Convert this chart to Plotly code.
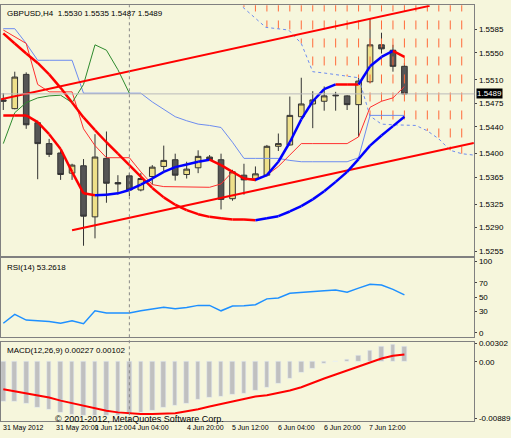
import plotly.graph_objects as go
from plotly.subplots import make_subplots

# GBPUSD H4 bars (index 0..35)
opens = [1.5480,1.5467,1.5518,1.5446,1.5415,1.5401,1.5371,1.5382,1.5306,1.5393,1.5357,1.5367,
         1.5346,1.5366,1.5381,1.5391,1.5369,1.5379,1.5395,1.5391,1.5333,1.5368,1.5363,1.5368,
         1.5411,1.5413,1.5455,1.5474,1.5478,1.5486,1.5486,1.5473,1.5507,1.5562,1.5554,1.5530]
highs = [1.5490,1.5522,1.5521,1.5449,1.5422,1.5405,1.5385,1.5392,1.5429,1.5433,1.5368,1.5371,
         1.5371,1.5383,1.5412,1.5400,1.5388,1.5405,1.5398,1.5400,1.5376,1.5385,1.5381,1.5413,
         1.5430,1.5485,1.5513,1.5493,1.5500,1.5492,1.5487,1.5513,1.5601,1.5580,1.5562,1.5535]
lows = [1.5465,1.5466,1.5437,1.5362,1.5395,1.5361,1.5361,1.5263,1.5274,1.5327,1.5339,1.5337,
        1.5344,1.5354,1.5373,1.5360,1.5363,1.5371,1.5390,1.5317,1.5330,1.5339,1.5359,1.5366,
        1.5404,1.5412,1.5454,1.5438,1.5464,1.5464,1.5465,1.5425,1.5505,1.5549,1.5522,1.5487]
closes = [1.5478,1.5514,1.5443,1.5415,1.5399,1.5369,1.5383,1.5307,1.5395,1.5356,1.5355,1.5346,
          1.5363,1.5380,1.5390,1.5368,1.5377,1.5396,1.5391,1.5332,1.5373,1.5361,1.5370,1.5411,
          1.5415,1.5457,1.5474,1.5480,1.5486,1.5487,1.5473,1.5508,1.5562,1.5556,1.5530,1.5489]

fast_ma = [1.5457,1.5457,1.5457,1.5447,1.5429,1.5407,1.5373,1.5341,1.5338,1.5339,1.5341,1.5346,
           1.5354,1.5363,1.5373,1.5380,1.5384,1.5388,1.5391,1.5383,1.5373,1.5363,1.5361,1.5368,
           1.5388,1.5417,1.5451,1.5478,1.5496,1.5503,1.5503,1.5503,1.5530,1.5544,1.5553,1.5544]
slow_ma = [1.5579,1.5564,1.5549,1.5535,1.5518,1.5498,1.5476,1.5454,1.5435,1.5417,1.5400,1.5383,
           1.5366,1.5349,1.5335,1.5324,1.5316,1.5310,1.5306,1.5304,1.5302,1.5302,1.5301,1.5304,
           1.5307,1.5314,1.5322,1.5332,1.5344,1.5358,1.5373,1.5392,1.5412,1.5427,1.5441,1.5455]
tenkan = [1.5584,1.5574,1.5564,1.5503,1.5492,1.5492,1.5492,1.5437,1.5412,1.5394,1.5394,1.5394,
          1.5373,1.5354,1.5351,1.5351,1.5350,1.5350,1.5350,1.5355,1.5373,1.5363,1.5363,1.5368,
          1.5381,1.5398,1.5415,1.5415,1.5415,1.5415,1.5415,1.5425,1.5469,1.5478,1.5483,1.5500]
kijun = [1.5586,1.5586,1.5564,1.5539,1.5539,1.5539,1.5539,1.5490,1.5490,1.5490,1.5490,1.5490,
         1.5490,1.5477,1.5466,1.5455,1.5449,1.5444,1.5442,1.5439,1.5417,1.5393,1.5393,1.5393,
         1.5393,1.5390,1.5388,1.5388,1.5388,1.5388,1.5388,1.5394,1.5457,1.5457,1.5457,1.5457]
chikou = [1.5415,1.5461,1.5476,1.5483,1.5486,1.5487,1.5476,1.5503,1.5562,1.5554,1.5525,1.5490]

span_x = [20.9,21.9,22.9,23.9,24.9,26,27,28,29,30,31,32,33,34,35,36,37,38,39,40,41]
span_b = [1.5618,1.5603,1.5588,1.5586,1.5584,1.5564,1.5522,1.5520,1.5518,1.5515,1.5513,1.5456,
          1.5444,1.5443,1.5442,1.5442,1.5434,1.5422,1.5405,1.5400,1.5398]

chan_up_x, chan_up_y = [-0.2, 37.2], [1.5481, 1.5620]
chan_dn_x, chan_dn_y = [6.0, 41.05], [1.5286, 1.5416]

rsi = [13.6,26,18,17,16,13.6,17,13,31,28,28,28,31,34,36,34,35.5,38.6,38.6,31,37.7,38,39.5,47.7,
       49,55.5,57,58,59,60,57,62.7,68,67,61,53.3]
macd_hist = [-0.00593,-0.00593,-0.00627,-0.00682,-0.00716,-0.00766,-0.0079,-0.0080,-0.0080,-0.0080,
             -0.0080,-0.0079,-0.00766,-0.00726,-0.00682,-0.00652,-0.00618,-0.00558,-0.00529,-0.00519,
             -0.00494,-0.00469,-0.00435,-0.00385,-0.00321,-0.00247,-0.00158,-0.00099,-0.00025,0.0001,
             0.0004,0.0009,0.0017,0.0023,0.0025,0.00227]
macd_sig = [-0.0041,-0.0044,-0.0047,-0.0050,-0.00533,-0.0058,-0.00618,-0.0066,-0.0070,-0.0073,
            -0.00756,-0.0077,-0.0078,-0.0078,-0.0078,-0.0077,-0.0074,-0.0071,-0.00667,-0.0063,
            -0.0059,-0.0055,-0.0052,-0.0050,-0.0047,-0.0043,-0.0038,-0.0031,-0.0025,-0.0019,
            -0.0013,-0.0007,0.0000,0.0005,0.0009,0.0011]

date_pos = [-0.1, 4.5, 7.9, 11.1, 15.9, 19.9, 23.9, 27.9, 31.8]
date_labels = ["31 May 2012", "31 May 20:00", "1 Jun 12:00", "4 Jun 04:00", "4 Jun 20:00",
               "5 Jun 12:00", "6 Jun 04:00", "6 Jun 20:00", "7 Jun 12:00"]
price_ticks = [1.5585, 1.5550, 1.5510, 1.5475, 1.5440, 1.5400, 1.5365, 1.5325, 1.5290, 1.5255]

idx = list(range(len(opens)))
BG = "#F6F6DC"
FONT = dict(family="Liberation Sans", size=8, color="black")

fig = make_subplots(rows=3, cols=1, shared_xaxes=True)

# cloud hatch
hx, hy = [], []
for x, y in zip(span_x, span_b):
    if abs(x - round(x)) < 0.15 and 21 <= round(x) <= 40:
        hx += [round(x), round(x), None]
        hy += [1.5625, y, None]
fig.add_trace(go.Scatter(x=hx, y=hy, mode="lines", line=dict(color="#FF6A3A", width=1, dash="dash")), 1, 1)
fig.add_trace(go.Scatter(x=span_x, y=span_b, mode="lines", line=dict(color="#6D8CF0", width=1, dash="dot")), 1, 1)

fig.add_trace(go.Scatter(x=idx, y=kijun, mode="lines", line=dict(color="#6D8CF0", width=1)), 1, 1)
fig.add_trace(go.Scatter(x=idx, y=tenkan, mode="lines", line=dict(color="#FF3030", width=1)), 1, 1)
fig.add_trace(go.Scatter(x=idx[:len(chikou)], y=chikou, mode="lines", line=dict(color="#2E8B2E", width=1)), 1, 1)

fig.add_trace(go.Scatter(x=chan_up_x, y=chan_up_y, mode="lines", line=dict(color="#FF0000", width=2)), 1, 1)
fig.add_trace(go.Scatter(x=chan_dn_x, y=chan_dn_y, mode="lines", line=dict(color="#FF0000", width=2)), 1, 1)

fig.add_trace(go.Candlestick(x=idx, open=opens, high=highs, low=lows, close=closes,
                             increasing=dict(fillcolor="#EEE08A", line=dict(color="#333333", width=1)),
                             decreasing=dict(fillcolor="#555555", line=dict(color="#333333", width=1)),
                             whiskerwidth=0), 1, 1)

# moving averages coloured by direction
for ma in (slow_ma, fast_ma):
    for i in range(len(ma) - 1):
        col = "#0000FF" if ma[i + 1] > ma[i] else "#FF0000"
        fig.add_trace(go.Scatter(x=[i, i + 1], y=[ma[i], ma[i + 1]], mode="lines",
                                 line=dict(color=col, width=2.5)), 1, 1)

fig.add_hline(y=closes[-1], line=dict(color="#BBBBBB", width=1), row=1, col=1)

# RSI
for lvl in (70, 50, 30):
    fig.add_hline(y=lvl, line=dict(color="#B8B8B8", width=1), row=2, col=1)
fig.add_trace(go.Scatter(x=idx, y=rsi, mode="lines", line=dict(color="#1E90FF", width=1.5)), 2, 1)

# MACD
fig.add_trace(go.Bar(x=idx, y=macd_hist, marker_color="#C0C0C0", width=0.4), 3, 1)
fig.add_trace(go.Scatter(x=idx, y=macd_sig, mode="lines", line=dict(color="#FF0000", width=2)), 3, 1)

xr = [-0.2, 41.1]
ax = dict(range=xr, showgrid=False, zeroline=False, showticklabels=False, showline=True,
          mirror=True, linecolor="#808080", linewidth=1)
yax = dict(side="right", showgrid=False, zeroline=False, showline=True, mirror=True,
           linecolor="#808080", ticks="outside", ticklen=2, tickfont=dict(size=8))
fig.update_layout(
    width=511, height=438, margin=dict(l=0, r=0, t=0, b=0),
    paper_bgcolor=BG, plot_bgcolor=BG, showlegend=False, font=FONT, bargap=0,
    xaxis=dict(ax, domain=[0.002, 0.943], rangeslider=dict(visible=False)),
    xaxis2=dict(ax, domain=[0.002, 0.943]),
    xaxis3=dict(ax, domain=[0.002, 0.943]),
    yaxis=dict(yax, domain=[0.413, 0.995], range=[1.5246, 1.5621], tickvals=price_ticks,
               ticktext=[f"{v:.4f}" for v in price_ticks]),
    yaxis2=dict(yax, domain=[0.228, 0.413], range=[-6, 106], tickvals=[0, 30, 50, 70, 100]),
    yaxis3=dict(yax, domain=[0.034, 0.218], range=[-0.00889, 0.00302],
                tickvals=[-0.0085, 0, 0.0028], ticktext=["-0.00889", "0.00", "0.00302"]),
)

fig.add_shape(type="line", xref="x", yref="paper", x0=11, x1=11, y0=0.034, y1=0.995,
              line=dict(color="#888888", width=1, dash="dot"))

ann = [
    dict(x=0.01, y=0.99, text="GBPUSD,H4  1.5530 1.5535 1.5487 1.5489"),
    dict(x=0.01, y=0.405, text="RSI(14) 53.2618"),
    dict(x=0.01, y=0.212, text="MACD(12,26,9) 0.00227 0.00102"),
    dict(x=0.105, y=0.055, text="© 2001-2012, MetaQuotes Software Corp.", font=dict(size=9)),
]
for a in ann:
    fig.add_annotation(xref="paper", yref="paper", xanchor="left", yanchor="top", showarrow=False, **a)
fig.add_annotation(xref="paper", yref="y", x=0.946, y=closes[-1], text=f"{closes[-1]:.4f}",
                   xanchor="left", showarrow=False, bgcolor="black", borderpad=0,
                   font=dict(color="white", size=8))
for p, t in zip(date_pos, date_labels):
    fig.add_annotation(xref="x3", yref="paper", x=p, y=0.03, text=t, xanchor="left", yanchor="top",
                       showarrow=False, font=dict(size=7), borderpad=0)

fig.write_html("out.html", config={"displayModeBar": False},
               post_script="document.body.style.margin='0';document.body.style.overflow='hidden';")
